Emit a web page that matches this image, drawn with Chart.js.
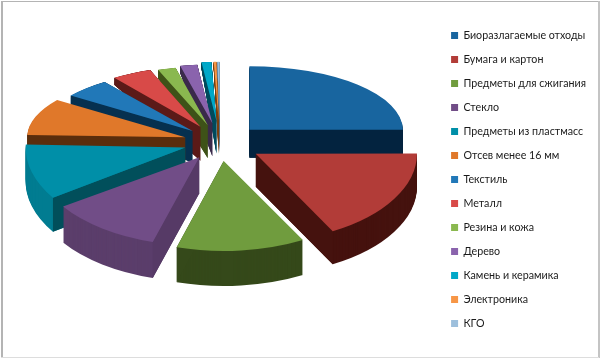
<!DOCTYPE html>
<html>
<head>
<meta charset="utf-8">
<script src="https://cdn.jsdelivr.net/npm/chart.js@4"></script>
<style>
  html, body { margin: 0; padding: 0; background: #fff; }
  #wrap { position: relative; width: 600px; height: 359px; }
</style>
</head>
<body>
<div id="wrap"><canvas id="myChart"></canvas></div>
<script>
const categories = ['Биоразлагаемые отходы', 'Бумага и картон', 'Предметы для сжигания', 'Стекло',
    'Предметы из пластмасс', 'Отсев менее 16 мм', 'Текстиль', 'Металл', 'Резина и кожа', 'Дерево',
    'Камень и керамика', 'Электроника', 'КГО'];
const shares = [25, 17.1, 12.5, 11, 10, 9.4, 5.1, 4.4, 2, 1.9, 1.1, 0.3, 0.25];

const topColors = ['#18659f', '#b23c38', '#709c3e', '#714d87', '#008fa8', '#e0782a', '#2178b8',
    '#d84a48', '#8ab84f', '#8a63ad', '#00a8c8', '#f79646', '#9dbfdc'];
const rimColors = ['#03233f', '#45120e', '#35491a', '#5b3e6b', '#017c91', '#5a2d0c', '#06304f',
    '#5b1a18', '#3e5218', '#3a2a4a', '#004a5c', '#7a4010', '#5a7488'];
const wallColors = ['#03233f', '#45120e', '#35491a', '#563a66', '#014f5b', '#5a2d0c', '#06304f',
    '#5b1a18', '#3e5218', '#3a2a4a', '#004a5c', '#7a4010', '#5a7488'];

// the pie is drawn flat by Chart.js, this tilts each slice and gives it a wall
const pieCenter = { x: 220, y: 142 };
const pieRadius = 155;
const explode = [42, 40, 33, 33, 35, 36, 40, 44, 46, 50, 56, 56, 56];
const squash = [0.41, 0.57, 0.58, 0.57, 0.58, 0.41, 0.39, 0.39, 0.38, 0.38, 0.38, 0.38, 0.38];
const spread = [0.99, 1.04, 1.07, 1.06, 1.03, 1.02, 0.97, 0.95, 0.94, 0.94, 0.93, 0.93, 0.93];
const depth = [28, 33, 35, 36, 34, 32, 32, 34, 33, 33, 33, 33, 33];
const taper = [0, 0, 0, 0, 0, 0, 0.55, 0.55, 0.45, 0.45, 0.45, 0.45, 0.45];

function paintArc(ctx, arc, fill) {
    const keep = arc.options;
    arc.options = Object.create(keep, { backgroundColor: { value: fill } });
    arc.draw(ctx);
    arc.options = keep;
}

const tiltPlugin = {
    id: 'tilt',
    beforeDatasetDraw(chart, args) {
        const ctx = chart.ctx;
        const arcs = args.meta.data.map((arc, i) => ({ arc, i, mid: (arc.startAngle + arc.endAngle) / 2 }));
        arcs.sort((a, b) => Math.sin(a.mid) - Math.sin(b.mid));

        arcs.forEach(({ arc, i, mid }) => {
            const apexX = pieCenter.x + Math.cos(mid) * explode[i] * spread[i];
            const apexY = pieCenter.y + Math.sin(mid) * explode[i] * squash[i];

            // outer wall, stacked from bottom to top
            for (let k = depth[i]; k > 0; k--) {
                const t = k / depth[i];
                ctx.save();
                ctx.translate(apexX, apexY + k);
                ctx.scale(spread[i], squash[i] * (1 + taper[i] * t));
                ctx.translate(-arc.x, -arc.y);
                paintArc(ctx, arc, rimColors[i]);
                ctx.restore();
            }

            // cut face that looks at the viewer
            const edge = Math.cos(mid) > 0 ? arc.endAngle : arc.startAngle;
            const ex = Math.cos(edge) * arc.outerRadius * spread[i];
            const ey = Math.sin(edge) * arc.outerRadius * squash[i];
            ctx.fillStyle = wallColors[i];
            ctx.beginPath();
            ctx.moveTo(apexX, apexY);
            ctx.lineTo(apexX + ex, apexY + ey);
            ctx.lineTo(apexX + ex, apexY + depth[i] + ey * (1 + taper[i]));
            ctx.lineTo(apexX, apexY + depth[i]);
            ctx.closePath();
            ctx.fill();

            ctx.save();
            ctx.translate(apexX, apexY);
            ctx.scale(spread[i], squash[i]);
            ctx.translate(-arc.x, -arc.y);
            paintArc(ctx, arc, topColors[i]);
            ctx.restore();
        });
        return false;
    }
};

// white page and the thin grey frame of the picture
const framePlugin = {
    id: 'frame',
    beforeDraw(chart) {
        const ctx = chart.ctx;
        ctx.fillStyle = '#ffffff';
        ctx.fillRect(0, 0, chart.width, chart.height);
        ctx.fillStyle = '#b4b4b4';
        ctx.fillRect(1, 1, chart.width - 2, 1);
        ctx.fillRect(1, 1, 2, chart.height - 2);
        ctx.fillStyle = '#c4c4c4';
        ctx.fillRect(chart.width - 2, 1, 2, chart.height - 2);
        ctx.fillStyle = '#dddddd';
        ctx.fillRect(1, chart.height - 2, chart.width - 2, 1);
    }
};

new Chart(document.getElementById('myChart').getContext('2d'), {
    type: 'pie',
    data: {
        labels: categories,
        datasets: [{
            data: shares,
            backgroundColor: topColors,
            borderWidth: 0,
            clip: false
        }]
    },
    options: {
        responsive: true,
        maintainAspectRatio: false,
        animation: false,
        radius: pieRadius,
        layout: { padding: { right: 4 } },
        plugins: {
            tooltip: { enabled: false },
            legend: {
                position: 'right',
                labels: {
                    boxWidth: 7,
                    boxHeight: 7,
                    padding: 13.3,
                    color: '#1a1a1a',
                    font: { family: 'Lato, "Open Sans", sans-serif', size: 10.7 }
                }
            }
        }
    },
    plugins: [framePlugin, tiltPlugin]
});
</script>
</body>
</html>
